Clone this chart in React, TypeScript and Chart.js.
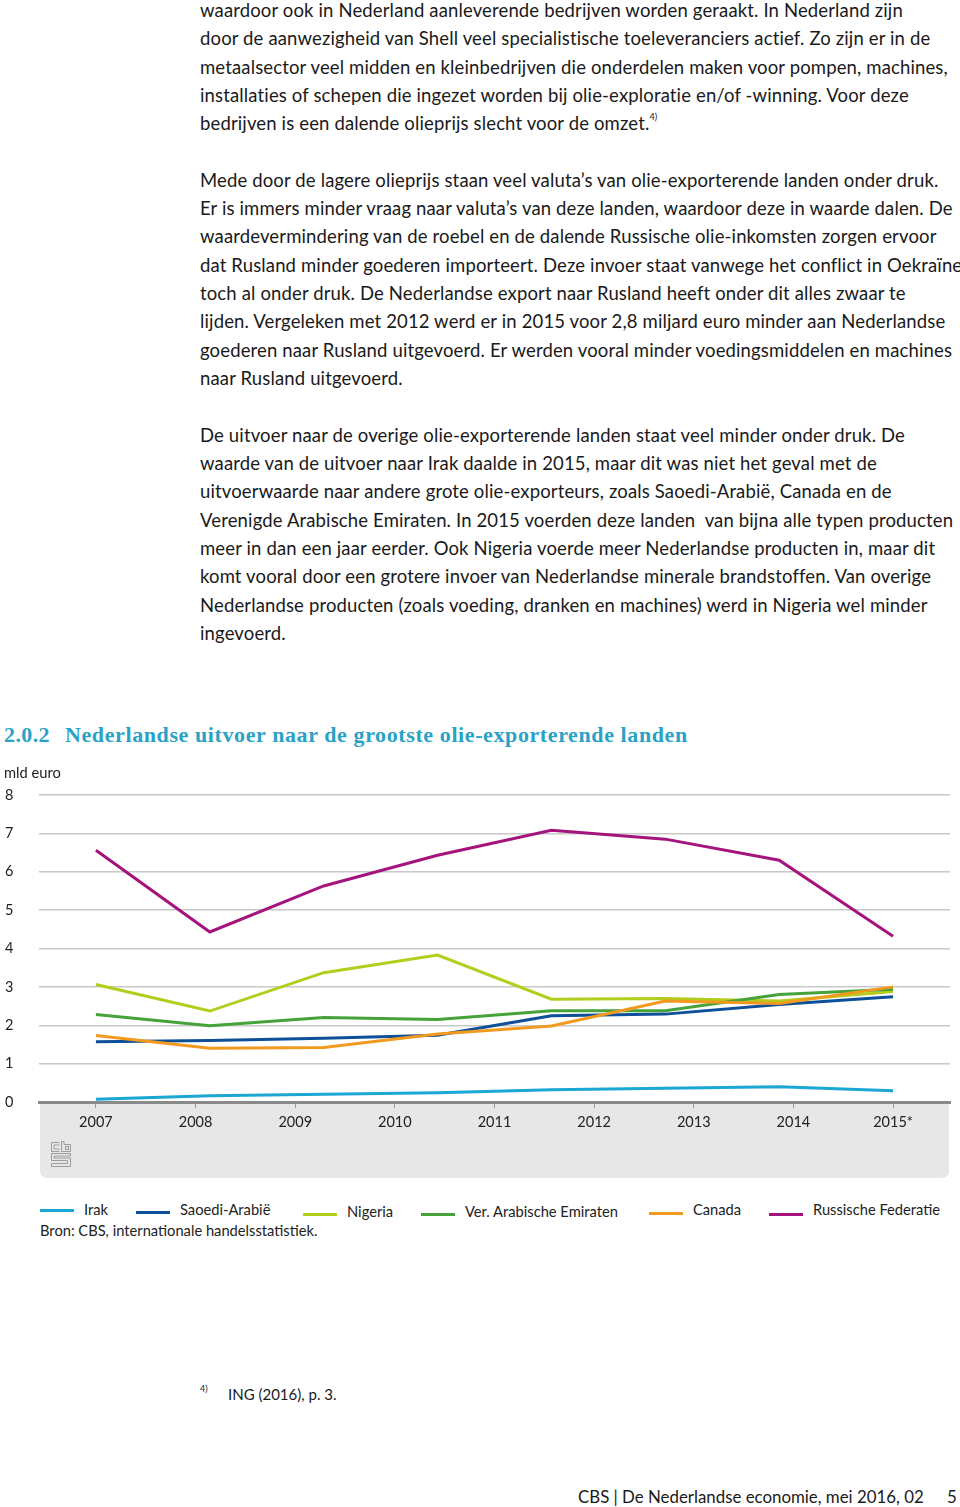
import React, { useEffect, useRef } from 'react';
import { Chart, registerables } from 'chart.js';

Chart.register(...registerables);

// ---- data ----
const periods = ['2008', '2009', '2010', '2011', '2012', '2013', '2014', '2015*'];
const axisLabels = ['2007', '2008', '2009', '2010', '2011', '2012', '2013', '2014', '2015*'];
const irak = [0.07, 0.16, 0.2, 0.24, 0.32, 0.36, 0.4, 0.29];
const saoediArabie = [1.57, 1.6, 1.66, 1.74, 2.25, 2.29, 2.54, 2.74];
const nigeria = [3.06, 2.37, 3.37, 3.83, 2.68, 2.7, 2.63, 2.88];
const emiraten = [2.28, 1.99, 2.2, 2.15, 2.38, 2.38, 2.8, 2.94];
const canada = [1.73, 1.4, 1.42, 1.77, 1.98, 2.63, 2.57, 3.0];
const rusland = [6.56, 4.43, 5.63, 6.43, 7.08, 6.85, 6.3, 4.32];
const seriesNames = ['Irak', 'Saoedi-Arabië', 'Nigeria', 'Ver. Arabische Emiraten', 'Canada', 'Russische Federatie'];
const seriesValues = [irak, saoediArabie, nigeria, emiraten, canada, rusland];
const seriesColors = ['#1aa7d4', '#0d4f98', '#b4cc1c', '#46a33a', '#f29a1f', '#a5147c'];

const FONT = 'Lato, "Open Sans", sans-serif';

const paragraphLines = [
  'waardoor ook in Nederland aanleverende bedrijven worden geraakt. In Nederland zijn',
  'door de aanwezigheid van Shell veel specialistische toeleveranciers actief. Zo zijn er in de',
  'metaalsector veel midden en kleinbedrijven die onderdelen maken voor pompen, machines,',
  'installaties of schepen die ingezet worden bij olie-exploratie en/of -winning. Voor deze',
  '@@bedrijven is een dalende olieprijs slecht voor de omzet.',
  '',
  'Mede door de lagere olieprijs staan veel valuta’s van olie-exporterende landen onder druk.',
  'Er is immers minder vraag naar valuta’s van deze landen, waardoor deze in waarde dalen. De',
  'waardevermindering van de roebel en de dalende Russische olie-inkomsten zorgen ervoor',
  'dat Rusland minder goederen importeert. Deze invoer staat vanwege het conflict in Oekraïne',
  'toch al onder druk. De Nederlandse export naar Rusland heeft onder dit alles zwaar te',
  'lijden. Vergeleken met 2012 werd er in 2015 voor 2,8 miljard euro minder aan Nederlandse',
  'goederen naar Rusland uitgevoerd. Er werden vooral minder voedingsmiddelen en machines',
  'naar Rusland uitgevoerd.',
  '',
  'De uitvoer naar de overige olie-exporterende landen staat veel minder onder druk. De',
  'waarde van de uitvoer naar Irak daalde in 2015, maar dit was niet het geval met de',
  'uitvoerwaarde naar andere grote olie-exporteurs, zoals Saoedi-Arabië, Canada en de',
  'Verenigde Arabische Emiraten. In 2015 voerden deze landen  van bijna alle typen producten',
  'meer in dan een jaar eerder. Ook Nigeria voerde meer Nederlandse producten in, maar dit',
  'komt vooral door een grotere invoer van Nederlandse minerale brandstoffen. Van overige',
  'Nederlandse producten (zoals voeding, dranken en machines) werd in Nigeria wel minder',
  'ingevoerd.',
];

const legendPos = [
  { line: 40, text: 84, ly: 1210, ty: 1209 },
  { line: 136, text: 180, ly: 1212, ty: 1209 },
  { line: 303, text: 347, ly: 1214, ty: 1211 },
  { line: 421, text: 465, ly: 1214, ty: 1211 },
  { line: 649, text: 693, ly: 1213, ty: 1209 },
  { line: 769, text: 813, ly: 1214, ty: 1209 },
];

const bandPlugin = {
  id: 'band',
  beforeDraw(chart: any) {
    const { ctx, chartArea } = chart;
    ctx.save();
    ctx.fillStyle = '#e7e7e7';
    ctx.beginPath();
    const x0 = chartArea.left + 1;
    const w = chartArea.right - chartArea.left - 2;
    if (ctx.roundRect) ctx.roundRect(x0, chartArea.bottom, w, 76, [0, 0, 7, 7]);
    else ctx.rect(x0, chartArea.bottom, w, 76);
    ctx.fill();
    ctx.restore();
  },
};

function ChartBlock() {
  const ref = useRef<HTMLCanvasElement | null>(null);
  useEffect(() => {
    if (!ref.current) return;
    const tickFont = { family: FONT, size: 14.5 };
    const chart = new Chart(ref.current, {
      type: 'line',
      data: {
        labels: periods,
        datasets: seriesValues.map((vals, i) => ({
          label: seriesNames[i],
          data: vals,
          borderColor: seriesColors[i],
          backgroundColor: seriesColors[i],
          borderWidth: 3,
          pointRadius: 0,
          tension: 0,
          xAxisID: 'x',
          order: 6 - i,
        })),
      },
      options: {
        animation: false,
        responsive: false,
        events: [],
        layout: { padding: { top: 35, left: 5, right: 10, bottom: 0 } },
        plugins: { legend: { display: false }, tooltip: { enabled: false }, title: { display: false } },
        scales: {
          x: { type: 'category', offset: true, display: false },
          x2: {
            type: 'linear',
            position: 'bottom',
            min: -4 / 7,
            max: 8 + 4 / 7,
            afterBuildTicks: (s: any) => {
              s.ticks = axisLabels.map((_, i) => ({ value: i }));
            },
            afterFit: (s: any) => {
              s.height = 88;
            },
            ticks: {
              callback: (_v: any, i: number) => axisLabels[i],
              font: tickFont,
              color: '#222',
              padding: 6,
              maxRotation: 0,
              autoSkip: false,
            },
            grid: { drawOnChartArea: false, tickLength: 6, color: '#9a9a9a', lineWidth: 1 },
            border: { display: true, color: '#8a8a8a', width: 3 },
          },
          y: {
            min: 0,
            max: 8,
            afterFit: (s: any) => {
              s.width = 34;
            },
            ticks: { stepSize: 1, crossAlign: 'far', padding: 0, font: tickFont, color: '#222' },
            grid: {
              drawTicks: false,
              color: (c: any) => (c.tick && c.tick.value === 0 ? 'rgba(0,0,0,0)' : '#c8c8c8'),
              lineWidth: 1.5,
            },
            border: { display: false },
          },
        },
      } as any,
      plugins: [bandPlugin],
    });
    return () => chart.destroy();
  }, []);
  return (
    <canvas
      ref={ref}
      width={960}
      height={430}
      style={{ position: 'absolute', left: 0, top: 760, width: 960, height: 430 }}
    />
  );
}

function CbsLogo() {
  return (
    <svg
      width={22}
      height={27}
      viewBox="0 0 22 27"
      style={{ position: 'absolute', left: 50, top: 1141 }}
      fill="none"
      stroke="#9c9c9c"
      strokeWidth={1}
    >
      <path d="M9.5 1.5 H1.5 V10.5 H9.5 M9.5 4 H4 V8 H9.5" />
      <path d="M11.5 0.5 V10.5 H20.5 V3.5 H14 V0.5 Z" />
      <rect x={15.5} y={5.5} width={3} height={3} />
      <path d="M20.5 12.5 H1.5 V19.5 H17.5 V22.5 H1.5 V25.5 H20.5 V17 H4 V15 H20.5 Z" />
    </svg>
  );
}

export default function App() {
  useEffect(() => {
    document.body.style.margin = '0';
  }, []);
  const lh = 28.333;
  return (
    <div
      style={{
        position: 'absolute',
        left: 0,
        top: 0,
        width: 960,
        height: 1507,
        overflow: 'hidden',
        background: '#fff',
        fontFamily: FONT,
        color: '#1a1a1a',
      }}
    >
      <div style={{ position: 'absolute', left: 200, top: 10 - lh / 2, fontSize: 18.5, letterSpacing: 0.14 }}>
        {paragraphLines.map((l, i) => (
          <div key={i} style={{ height: lh, lineHeight: `${lh}px`, whiteSpace: 'pre' }}>
            {l.startsWith('@@') ? (
              <>
                {l.slice(2)}
                <sup style={{ fontSize: 9, verticalAlign: 'top', position: 'relative', top: -6 }}>4)</sup>
              </>
            ) : (
              l
            )}
          </div>
        ))}
      </div>

      <div
        style={{
          position: 'absolute',
          left: 4,
          top: 722,
          fontFamily: '"Liberation Serif", "DejaVu Serif", serif',
          fontWeight: 'bold',
          fontSize: 22,
          color: '#2aa2c6',
          whiteSpace: 'pre',
          lineHeight: '26px',
        }}
      >
        <span style={{ letterSpacing: 0.4 }}>2.0.2</span>
        <span style={{ position: 'absolute', left: 61, letterSpacing: 0.6 }}>
          Nederlandse uitvoer naar de grootste olie-exporterende landen
        </span>
      </div>

      <ChartBlock />

      <div style={{ position: 'absolute', left: 4, top: 763, fontSize: 14.7, lineHeight: '18px', color: '#222' }}>mld euro</div>

      <CbsLogo />

      {seriesNames.map((n, i) => (
        <React.Fragment key={n}>
          <div
            style={{
              position: 'absolute',
              left: legendPos[i].line,
              top: legendPos[i].ly - 1.5,
              width: 34,
              height: 3,
              background: seriesColors[i],
            }}
          />
          <div
            style={{
              position: 'absolute',
              left: legendPos[i].text,
              top: legendPos[i].ty - 9,
              fontSize: 14.7,
              lineHeight: '18px',
              color: '#222',
              whiteSpace: 'pre',
            }}
          >
            {n}
          </div>
        </React.Fragment>
      ))}

      <div style={{ position: 'absolute', left: 40, top: 1221, fontSize: 14.7, lineHeight: '18px', color: '#222' }}>
        Bron: CBS, internationale handelsstatistiek.
      </div>

      <div style={{ position: 'absolute', left: 200, top: 1383, fontSize: 9, lineHeight: '12px' }}>4)</div>
      <div style={{ position: 'absolute', left: 228, top: 1384, fontSize: 15, lineHeight: '20px' }}>ING (2016), p. 3.</div>

      <div style={{ position: 'absolute', left: 578, top: 1486, fontSize: 16.85, lineHeight: '22px', whiteSpace: 'pre' }}>
        CBS | De Nederlandse economie, mei 2016, 02
      </div>
      <div style={{ position: 'absolute', left: 947, top: 1486, fontSize: 16.85, lineHeight: '22px' }}>5</div>
    </div>
  );
}
